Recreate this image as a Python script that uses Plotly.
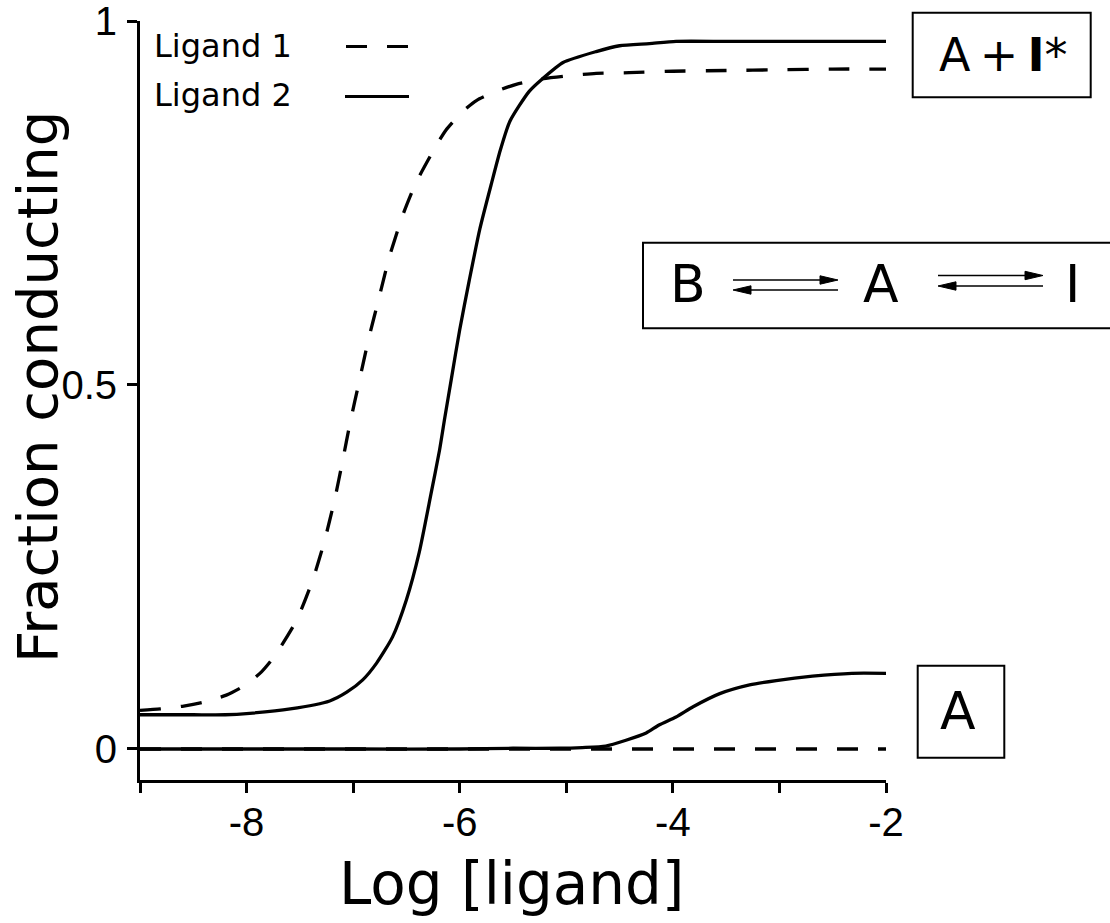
import plotly.graph_objects as go

# ---- data ---------------------------------------------------------------
# log10 [ligand] tick positions and labels
x_ticks = [-9, -8, -7, -6, -5, -4, -3, -2]
x_ticklabels = ["", "-8", "", "-6", "", "-4", "", "-2"]
y_ticks = [0, 0.5, 1]
y_ticklabels = ["0", "0.5", "1"]

# Ligand 1, fraction conducting in A + I*
lig1_total_x = [-9.0, -8.81, -8.59, -8.41, -8.19, -8.02, -7.86, -7.74, -7.53, -7.38,
                -7.27, -7.17, -7.10, -7.03, -6.94, -6.86, -6.75, -6.66, -6.53, -6.41,
                -6.22, -6.13, -5.97, -5.84, -5.63, -5.47, -5.25, -5.03, -4.72, -4.41,
                -4.0, -3.5, -3.0, -2.5, -2.0]
lig1_total_y = [0.053, 0.055, 0.059, 0.064, 0.074, 0.087, 0.106, 0.127, 0.177, 0.232,
                0.285, 0.345, 0.395, 0.447, 0.507, 0.560, 0.624, 0.676, 0.735, 0.778,
                0.829, 0.850, 0.876, 0.891, 0.905, 0.913, 0.920, 0.924, 0.928, 0.929,
                0.931, 0.932, 0.933, 0.934, 0.934]

# Ligand 1, fraction conducting in A only
lig1_a_x = [-9, -8, -7, -6, -5, -4, -3, -2]
lig1_a_y = [0, 0, 0, 0, 0, 0, 0, 0]

# Ligand 2, fraction conducting in A + I*
lig2_total_x = [-9.0, -8.5, -8.2, -7.97, -7.59, -7.22, -7.06, -6.91, -6.78, -6.63,
                -6.50, -6.38, -6.27, -6.19, -6.14, -6.08, -6.00, -5.91, -5.81, -5.70,
                -5.62, -5.53, -5.35, -5.22, -5.03, -4.72, -4.50, -4.22, -3.97, -3.5,
                -3.0, -2.5, -2.0]
lig2_total_y = [0.047, 0.047, 0.047, 0.049, 0.055, 0.066, 0.078, 0.095, 0.118, 0.154,
                0.205, 0.270, 0.350, 0.410, 0.455, 0.507, 0.576, 0.644, 0.715, 0.778,
                0.822, 0.862, 0.903, 0.921, 0.943, 0.958, 0.966, 0.969, 0.972, 0.972,
                0.972, 0.972, 0.972]

# Ligand 2, fraction conducting in A only
lig2_a_x = [-9.0, -8.0, -7.0, -6.0, -5.5, -5.06, -4.85, -4.63, -4.44, -4.25,
            -4.13, -3.97, -3.81, -3.56, -3.28, -3.03, -2.69, -2.32, -2.0]
lig2_a_y = [0.0, 0.0, 0.0, 0.0, 0.001, 0.001, 0.002, 0.004, 0.012, 0.022,
            0.033, 0.044, 0.058, 0.076, 0.088, 0.094, 0.100, 0.104, 0.104]

# ---- layout geometry ----------------------------------------------------
W, H = 1110, 923
ML, MR, MT, MB = 140, 224, 21, 143
FONT = "DejaVu Sans"
TICK_FONT = "Liberation Sans"
DASH = "21px,20px"


def px(x):
    """page pixel column -> paper x"""
    return (x - ML) / (W - ML - MR)


def py(y):
    """page pixel row -> paper y"""
    return (H - MB - y) / (H - MT - MB)


fig = go.Figure()

curve = dict(color="black", width=3.3, shape="spline", smoothing=0.6)
fig.add_trace(go.Scatter(x=lig1_a_x, y=lig1_a_y, mode="lines",
                         line=dict(color="black", width=3.6, dash=DASH), name="Ligand 1 (A)"))
fig.add_trace(go.Scatter(x=lig2_a_x, y=lig2_a_y, mode="lines",
                         line=curve, name="Ligand 2 (A)"))
fig.add_trace(go.Scatter(x=lig1_total_x, y=lig1_total_y, mode="lines",
                         line=dict(curve, dash=DASH), name="Ligand 1"))
fig.add_trace(go.Scatter(x=lig2_total_x, y=lig2_total_y, mode="lines",
                         line=curve, name="Ligand 2"))

shapes = []
annotations = []


def label(text, x, y, size, family=FONT, **kw):
    annotations.append(dict(text=text, xref="paper", yref="paper", x=px(x), y=py(y),
                            showarrow=False, xanchor=kw.pop("xanchor", "center"),
                            yanchor="middle", font=dict(family=family, size=size, color="black"),
                            **kw))


def box(x0, y0, x1, y1):
    shapes.append(dict(type="rect", xref="paper", yref="paper",
                       x0=px(x0), x1=px(x1), y0=py(y1), y1=py(y0),
                       line=dict(color="black", width=2), fillcolor="rgba(0,0,0,0)",
                       layer="above"))


def seg(x0, y0, x1, y1, width=1.5, dash="solid"):
    shapes.append(dict(type="line", xref="paper", yref="paper",
                       x0=px(x0), x1=px(x1), y0=py(y0), y1=py(y1),
                       line=dict(color="black", width=width, dash=dash), layer="above"))


def arrow(x_tail, x_head, y):
    """thin arrow with a slim filled head"""
    d = 1 if x_head > x_tail else -1
    seg(x_tail, y, x_head - d * 8, y)
    base = x_head - d * 18
    path = "M {:.5f},{:.5f} L {:.5f},{:.5f} L {:.5f},{:.5f} Z".format(
        px(x_head), py(y), px(base), py(y - 4.2), px(base), py(y + 4.2))
    shapes.append(dict(type="path", xref="paper", yref="paper", path=path,
                       fillcolor="black", line=dict(color="black", width=1), layer="above"))


# axis titles
label("Fraction conducting", 37, 387, 56, textangle=-90)
label("Log [ligand]", 511, 884, 58)

# key: text followed by line sample
label("Ligand 1", 152, 46, 32, xanchor="left")
label("Ligand 2", 152, 95, 32, xanchor="left")
seg(346, 46.5, 409, 46.5, width=3, dash=DASH)
seg(345, 96.5, 409, 96.5, width=3)

# state boxes
box(912.7, 12.7, 1090.7, 97.3)
label("A\u2009+\u2009<b>I</b>*", 1003, 55, 46)

box(643, 242.7, 1115, 328.3)
label("B", 688, 284, 52)
label("A", 880.5, 284, 52)
label("I", 1072.5, 284, 52)
arrow(733, 838, 280)
arrow(838, 733, 290)
arrow(938, 1043, 275.5)
arrow(1043, 938, 286)

box(917.7, 665.7, 1004.3, 757.7)
label("A", 958.5, 711, 52)

axis_common = dict(showline=True, linecolor="black", linewidth=3, ticks="outside",
                   tickcolor="black", tickwidth=2.5, ticklen=10, showgrid=False,
                   zeroline=False, automargin=False, ticklabeloverflow="allow",
                   tickfont=dict(family=TICK_FONT, size=40, color="black"))

fig.update_layout(
    template="none",
    width=W, height=H,
    margin=dict(l=ML, r=MR, t=MT, b=MB, pad=0, autoexpand=False),
    paper_bgcolor="white", plot_bgcolor="white",
    showlegend=False,
    xaxis=dict(axis_common, range=[-9, -2], tickmode="array", tickvals=x_ticks,
               ticktext=x_ticklabels, ticklabelstandoff=-5),
    yaxis=dict(axis_common, range=[-0.0426, 1.0], tickmode="array", tickvals=y_ticks,
               ticktext=y_ticklabels, ticklabelstandoff=2),
    shapes=shapes,
    annotations=annotations,
)

fig.write_html("out.html")
